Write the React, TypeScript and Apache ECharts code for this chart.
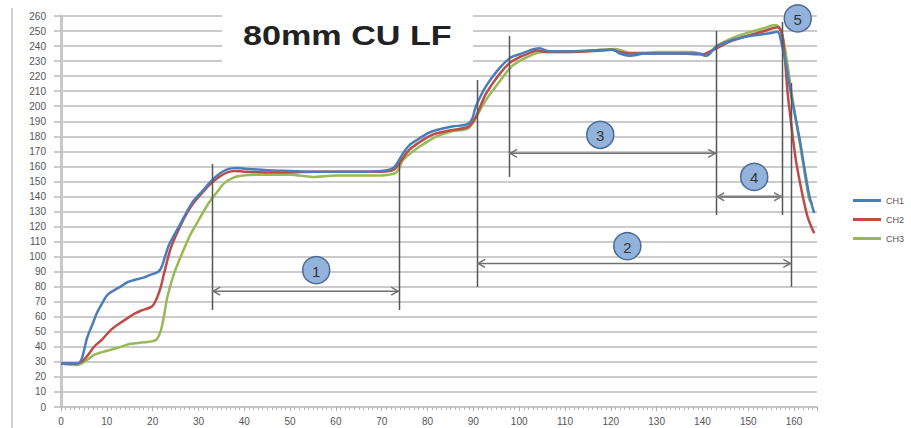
import React, { useEffect, useRef } from "react";
import * as echarts from "echarts";

const seriesNames = ["CH1", "CH2", "CH3"];
const seriesColors = ["#4a7ebb", "#be4b48", "#98b954"];

const ch1: number[][] = [
  [0, 29], [3.5, 29], [4.5, 32], [5.7, 46], [7, 56], [7.9, 63], [9, 69], [10.1, 74.5], [11.5, 77.5], [13, 80],
  [14.5, 83], [16, 84.5], [18, 86], [19.6, 88], [21, 89.5], [21.8, 92], [22.6, 99], [23.6, 108], [25, 116],
  [26.1, 122], [27.5, 130], [29, 137.5], [31, 144], [32.7, 150], [34.5, 155], [36.3, 158], [38, 159], [40, 158.5],
  [45, 157.5], [50, 157], [55, 156.5], [60, 156.5], [65, 156.5], [70, 157], [72.7, 159.5], [74.5, 168], [76, 174],
  [78.2, 178.5], [80, 182], [81.8, 184], [85.4, 186.5], [88.7, 188], [89.8, 192], [90.5, 199.5], [92.7, 213],
  [95.6, 225], [98.2, 232.5], [100, 234.5], [102.2, 237], [104.4, 238.5], [106.6, 236.5], [110, 236.5], [115, 237],
  [120.4, 237.5], [122, 235], [124, 233.6], [127.7, 235], [132, 235], [136, 235], [139.3, 235], [140.8, 233.5],
  [143, 239.5], [146.6, 244], [150, 246.5], [152.4, 247.5], [154.5, 248.5], [156.4, 249.5], [157.1, 244],
  [158.2, 228.5], [159.5, 205], [161.1, 180], [162.2, 160], [163.3, 141], [164.4, 129],
];

const ch2: number[][] = [
  [0, 29], [3.5, 29], [4.5, 30], [6, 35], [7.2, 40], [9, 45], [10.8, 51], [12.5, 55], [14.5, 59], [16, 62],
  [17.4, 64], [19.9, 67], [21, 73], [21.8, 80], [22.5, 89], [24, 106], [26, 120], [27.5, 129], [29, 136], [31, 143],
  [32.7, 148.5], [34.5, 153], [36.3, 156], [38, 157], [40, 156.5], [45, 156], [50, 156], [55, 156.5], [60, 156.5],
  [65, 156.5], [70, 156.5], [72.7, 158], [74.5, 165], [76, 171], [78.2, 176], [80, 179.5], [82, 182], [85, 184],
  [88.7, 186], [90, 190], [91, 196], [92.7, 208], [95.6, 221], [98, 229], [100, 232.5], [102, 235], [104, 237],
  [106, 236], [110, 236], [115, 236.5], [118, 237], [120, 237.5], [122, 236], [124, 235], [127, 235], [130, 235],
  [135, 235], [140, 234.5], [142, 237], [144, 240], [146, 243], [150, 247], [153, 249.5], [156.4, 252.5],
  [157.5, 246], [158.6, 208.6], [159.5, 185], [160.4, 164], [161.9, 140], [163, 126], [164.4, 115.5],
];

const ch3: number[][] = [
  [0, 29], [3.5, 28], [4.5, 29], [6, 32], [7.2, 34.6], [9, 36.5], [10.8, 38], [13, 40], [15.2, 42], [18.1, 43],
  [20.7, 44.5], [21.8, 51], [22.5, 61], [23.2, 73], [24.7, 89], [26.9, 105.5], [28.3, 115], [29.8, 123],
  [31.3, 131], [32.7, 137.6], [34.2, 143.5], [35.6, 148.7], [37.8, 152.7], [40.7, 154.2], [45, 154.5], [50, 154.5],
  [55, 153], [60, 154], [65, 154], [70, 154], [72.5, 155], [73.5, 157], [74.5, 163.5], [76, 168], [78.2, 173],
  [80, 176.5], [82, 180], [85, 183], [88.7, 185], [89.7, 188], [90.5, 192], [92.7, 204], [95.6, 216], [98.2, 226],
  [100, 230], [102, 233], [104, 235.5], [106, 236], [110, 236], [114, 236.5], [118, 237.5], [121, 238],
  [123, 236.5], [124, 235.5], [127, 235.5], [130, 236], [135, 236], [138, 236], [140.8, 233.5], [143, 240],
  [147, 246], [150, 249], [153, 251.5], [156, 254], [157.1, 251], [158.2, 235], [159.3, 212], [160.4, 191],
  [161.8, 165], [163.3, 138], [164, 135],
];

// annotation geometry in data units
const vLines: number[][] = [
  [33, 64.5, 161.6], [73.8, 64.5, 162], [90.8, 79.8, 217.4], [159.4, 80, 215.4],
  [97.8, 153, 246.7], [143, 127.7, 250], [157.4, 127.7, 256],
];
const arrows: number[][] = [
  [33, 73.8, 77], [90.8, 159.4, 95.5], [97.8, 143, 168.7], [143, 157.4, 139.8],
];
const badgeLabels = ["1", "2", "3", "4", "5"];
const badgePos: number[][] = [[55.7, 91], [123.6, 107], [117.7, 181], [151.3, 153], [160.8, 258.4]];

const titleText = "80mm CU LF";

export default function App() {
  const ref = useRef<HTMLDivElement>(null);
  useEffect(() => {
    if (!ref.current) return;
    const chart = echarts.init(ref.current, undefined, { renderer: "svg" });
    const allData = [ch1, ch2, ch3];
    chart.setOption({
      animation: false,
      backgroundColor: "#ffffff",
      textStyle: { fontFamily: "Liberation Sans, Arial, sans-serif" },
      grid: { left: 61, right: 94, top: 16, bottom: 21, containLabel: false },
      legend: {
        data: seriesNames,
        orient: "vertical",
        left: 848,
        top: 191,
        itemWidth: 28,
        itemHeight: 3,
        itemGap: 10,
        icon: "rect",
        textStyle: { fontSize: 9, color: "#555" },
      },
      xAxis: {
        type: "value",
        min: 0,
        max: 165,
        interval: 10,
        axisLine: { show: true, lineStyle: { color: "#c8c8c8", width: 2 } },
        axisTick: { show: true, length: 4, lineStyle: { color: "#b0b0b0" } },
        minorTick: { show: true, splitNumber: 10, length: 3, lineStyle: { color: "#b8b8b8" } },
        axisLabel: { fontSize: 10, color: "#555", margin: 9, showMaxLabel: false },
        splitLine: { show: false },
      },
      yAxis: {
        type: "value",
        min: 0,
        max: 260,
        interval: 10,
        axisLine: { show: true, lineStyle: { color: "#c8c8c8", width: 3 } },
        axisTick: { show: true, length: 7, lineStyle: { color: "#bababa", width: 1.5 } },
        axisLabel: { fontSize: 10, color: "#555", margin: 15 },
        splitLine: { show: true, lineStyle: { color: "#bababa", width: 1.5 } },
      },
      series: seriesNames.map((n, i) => ({
        name: n,
        type: "line",
        data: allData[i],
        smooth: 0.3,
        showSymbol: false,
        symbol: "none",
        lineStyle: { color: seriesColors[i], width: 2.5 },
        itemStyle: { color: seriesColors[i] },
        z: 3 + (2 - i),
      })),
    });

    const P = (x: number, y: number) => chart.convertToPixel({ xAxisIndex: 0, yAxisIndex: 0 }, [x, y]) as number[];
    const g: any[] = [];
    // chart border line at left
    g.push({ type: "line", shape: { x1: 12, y1: 8, x2: 12, y2: 428 }, style: { stroke: "#d0d0d0", lineWidth: 2 }, z: 1 });
    // white box behind title
    g.push({ type: "rect", shape: { x: 222, y: 6, width: 251, height: 62 }, style: { fill: "#ffffff" }, z: 5 });
    g.push({
      type: "text", x: 243, y: 22, scaleX: 1.22, z: 6,
      style: { text: titleText, fontSize: 28, fontWeight: "bold", fill: "#222", fontFamily: "Liberation Sans, Arial, sans-serif", textVerticalAlign: "top" },
    });
    vLines.forEach(([x, y1, y2]) => {
      const a = P(x, y1); const b = P(x, y2);
      g.push({ type: "line", shape: { x1: Math.round(a[0]) + 0.5, y1: a[1], x2: Math.round(a[0]) + 0.5, y2: b[1] }, style: { stroke: "#555", lineWidth: 1.5 }, z: 20 });
    });
    arrows.forEach(([x1, x2, y], i) => {
      const a = P(x1, y); const b = P(x2, y);
      const w = i === 3 ? 2.5 : 1.5;
      const col = i === 3 ? "#808080" : "#707070";
      g.push({ type: "line", shape: { x1: a[0], y1: a[1], x2: b[0], y2: b[1] }, style: { stroke: col, lineWidth: w }, z: 20 });
      g.push({ type: "polyline", shape: { points: [[a[0] + 8, a[1] - 4], [a[0] + 1, a[1]], [a[0] + 8, a[1] + 4]] }, style: { stroke: col, lineWidth: 1.5, fill: "none" }, z: 20 });
      g.push({ type: "polyline", shape: { points: [[b[0] - 8, b[1] - 4], [b[0] - 1, b[1]], [b[0] - 8, b[1] + 4]] }, style: { stroke: col, lineWidth: 1.5, fill: "none" }, z: 20 });
    });
    badgePos.forEach(([x, y], i) => {
      const c = P(x, y);
      g.push({ type: "circle", shape: { cx: c[0], cy: c[1], r: 13.5 }, style: { fill: "#93b3dc", stroke: "#4a6b93", lineWidth: 1.5 }, z: 21 });
      g.push({
        type: "text", x: c[0], y: c[1] + 1, z: 22,
        style: { text: badgeLabels[i], fontSize: 15, fill: "#333", textAlign: "center", textVerticalAlign: "middle", fontFamily: "Liberation Sans, Arial, sans-serif" },
      });
    });
    chart.setOption({ graphic: g });
    return () => chart.dispose();
  }, []);
  return <div ref={ref} style={{ position: "fixed", left: 0, top: 0, width: 911, height: 428 }} />;
}
